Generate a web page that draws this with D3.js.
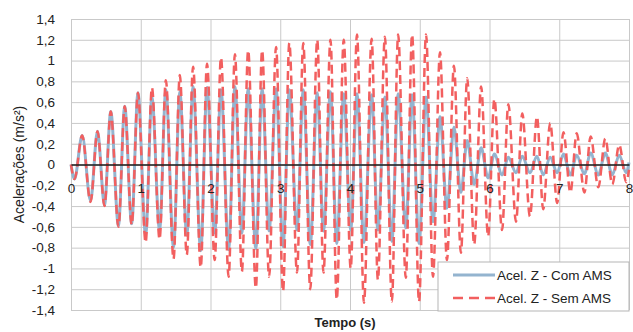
<!DOCTYPE html>
<html>
<head>
<meta charset="utf-8">
<script src="https://cdn.jsdelivr.net/npm/d3@7"></script>
<style>
  body { margin: 0; background: #fff; }
  svg { display: block; font-family: 'Liberation Sans', Arial, sans-serif; }
  .grid line { stroke: #c9c9c9; stroke-width: 1; }
  .tick text { font-size: 13.5px; fill: #222; }
</style>
</head>
<body>
<svg width="633" height="332"></svg>
<script>
// extrema times (s): start, then alternating trough / peak
const tempo = [
  0, 0.05, 0.16, 0.28, 0.38, 0.48, 0.57, 0.68, 0.77, 0.87, 0.96,
  1.07, 1.16, 1.27, 1.36, 1.47, 1.56, 1.66, 1.75, 1.86, 1.95,
  2.06, 2.15, 2.26, 2.35, 2.45, 2.54, 2.65, 2.74, 2.84, 2.94,
  3.04, 3.13, 3.24, 3.33, 3.43, 3.53, 3.62, 3.72, 3.81, 3.91,
  4.01, 4.10, 4.20, 4.31, 4.40, 4.50, 4.60, 4.69, 4.80, 4.89,
  4.99, 5.09, 5.19, 5.29, 5.39, 5.49, 5.59, 5.68, 5.78, 5.88,
  5.98, 6.07, 6.18, 6.27, 6.38, 6.47, 6.58, 6.68, 6.77, 6.87,
  6.97, 7.06, 7.16, 7.25, 7.36, 7.45, 7.56, 7.66, 7.76, 7.86,
  7.96, 8.0
];

const comAMS = [
  0, -0.14, 0.28, -0.35, 0.32, -0.39, 0.51, -0.59, 0.56, -0.57, 0.69,
  -0.68, 0.65, -0.63, 0.72, -0.80, 0.70, -0.68, 0.75, -0.83, 0.74,
  -0.66, 0.72, -0.82, 0.75, -0.66, 0.73, -0.81, 0.73, -0.64, 0.73,
  -0.79, 0.72, -0.63, 0.72, -0.77, 0.69, -0.64, 0.70, -0.76, 0.68,
  -0.63, 0.68, -0.75, 0.67, -0.63, 0.65, -0.74, 0.68, -0.61, 0.67,
  -0.76, 0.65, -0.55, 0.46, -0.42, 0.36, -0.27, 0.23, -0.19, 0.16,
  -0.13, 0.10, -0.10, 0.07, -0.08, 0.08, -0.08, 0.08, -0.10, 0.07,
  -0.08, 0.10, -0.10, 0.09, -0.09, 0.11, -0.10, 0.11, -0.10, 0.09,
  -0.08, 0.02
];

const semAMS = [
  0, -0.14, 0.28, -0.36, 0.32, -0.40, 0.51, -0.60, 0.56, -0.58, 0.69,
  -0.75, 0.74, -0.72, 0.81, -0.91, 0.86, -0.87, 0.94, -0.99, 0.97,
  -0.92, 1.03, -1.08, 1.06, -1.03, 1.10, -1.19, 1.10, -1.08, 1.13,
  -1.22, 1.17, -1.04, 1.17, -1.20, 1.20, -1.04, 1.20, -1.30, 1.20,
  -1.00, 1.25, -1.33, 1.21, -1.11, 1.23, -1.32, 1.25, -1.09, 1.25,
  -1.32, 1.25, -1.08, 1.08, -0.92, 0.95, -0.85, 0.83, -0.77, 0.75,
  -0.69, 0.63, -0.63, 0.58, -0.55, 0.49, -0.50, 0.46, -0.43, 0.40,
  -0.37, 0.31, -0.27, 0.30, -0.27, 0.27, -0.22, 0.25, -0.19, 0.19,
  -0.17, -0.05
];

const xTicks = [0, 1, 2, 3, 4, 5, 6, 7, 8];
const yTicks = [-1.4, -1.2, -1, -0.8, -0.6, -0.4, -0.2, 0, 0.2, 0.4, 0.6, 0.8, 1, 1.2, 1.4];
const seriesNames = ['Acel. Z - Com AMS', 'Acel. Z - Sem AMS'];

const svg = d3.select('svg');
const width = +svg.attr('width');
const height = +svg.attr('height');
const margin = { top: 19, right: 4, bottom: 22, left: 71 };
const innerWidth = width - margin.left - margin.right;
const innerHeight = height - margin.top - margin.bottom;

const ptBR = d3.formatLocale({ decimal: ',', thousands: '.', grouping: [3], currency: ['R$', ''], minus: '-' });
const fmt = ptBR.format('.1~f');

const xScale = d3.scaleLinear().domain([0, 8]).range([0, innerWidth]);
const yScale = d3.scaleLinear().domain([-1.4, 1.4]).range([innerHeight, 0]);

const g = svg.append('g')
  .attr('transform', `translate(${margin.left},${margin.top})`);

// horizontal grid + y labels
const yAxisG = g.append('g').attr('class', 'grid')
  .call(d3.axisLeft(yScale).tickValues(yTicks).tickFormat(fmt)
    .tickSize(-innerWidth).tickPadding(16));
yAxisG.select('.domain').remove();

// vertical grid
const xGridG = g.append('g').attr('class', 'grid')
  .attr('transform', `translate(0,${innerHeight})`)
  .call(d3.axisBottom(xScale).tickValues(xTicks).tickSize(-innerHeight).tickFormat(''));
xGridG.select('.domain').remove();
xGridG.selectAll('text').remove();

const data = tempo.map((t, i) => ({ t, com: comAMS[i], sem: semAMS[i] }));

const lineCom = d3.line()
  .x(d => xScale(d.t))
  .y(d => yScale(d.com))
  .curve(d3.curveMonotoneX);

const lineSem = d3.line()
  .x(d => xScale(d.t))
  .y(d => yScale(d.sem))
  .curve(d3.curveMonotoneX);

g.append('path')
  .attr('d', lineCom(data))
  .attr('fill', 'none')
  .attr('stroke', '#94b4cf')
  .attr('stroke-width', 3);

g.append('path')
  .attr('d', lineSem(data))
  .attr('fill', 'none')
  .attr('stroke', '#f25f5f')
  .attr('stroke-width', 2.5)
  .attr('stroke-dasharray', '9,5');

// zero axis with x labels
const xAxisG = g.append('g')
  .attr('transform', `translate(0,${yScale(0)})`)
  .call(d3.axisBottom(xScale).tickValues(xTicks).tickFormat(d3.format('d'))
    .tickSize(0).tickPadding(18.5));
xAxisG.select('.domain')
  .attr('stroke', '#1a1a1a')
  .attr('stroke-width', 1.6);

// axis titles
svg.append('text')
  .attr('transform', `translate(20,${margin.top + innerHeight / 2}) rotate(-90)`)
  .attr('text-anchor', 'middle')
  .attr('dominant-baseline', 'middle')
  .attr('font-size', 14)
  .attr('fill', '#222')
  .text('Acelerações (m/s²)');

svg.append('text')
  .attr('x', 345)
  .attr('y', 327)
  .attr('text-anchor', 'middle')
  .attr('font-size', 13)
  .attr('font-weight', 'bold')
  .attr('fill', '#222')
  .text('Tempo (s)');

// legend
const legend = svg.append('g').attr('transform', 'translate(438,262)');
legend.append('rect')
  .attr('width', 191)
  .attr('height', 49)
  .attr('fill', '#fff')
  .attr('stroke', '#b5b5b5');

const legendStyles = [
  { stroke: '#94b4cf', width: 3, dash: null },
  { stroke: '#f25f5f', width: 2.5, dash: '10,6' }
];

seriesNames.forEach((name, i) => {
  const row = legend.append('g').attr('transform', `translate(0,${13 + i * 23})`);
  row.append('line')
    .attr('x1', 15).attr('x2', 57)
    .attr('stroke', legendStyles[i].stroke)
    .attr('stroke-width', legendStyles[i].width)
    .attr('stroke-dasharray', legendStyles[i].dash);
  row.append('text')
    .attr('x', 59)
    .attr('dy', '0.35em')
    .attr('font-size', 13.5)
    .attr('fill', '#222')
    .text(name);
});
</script>
</body>
</html>
